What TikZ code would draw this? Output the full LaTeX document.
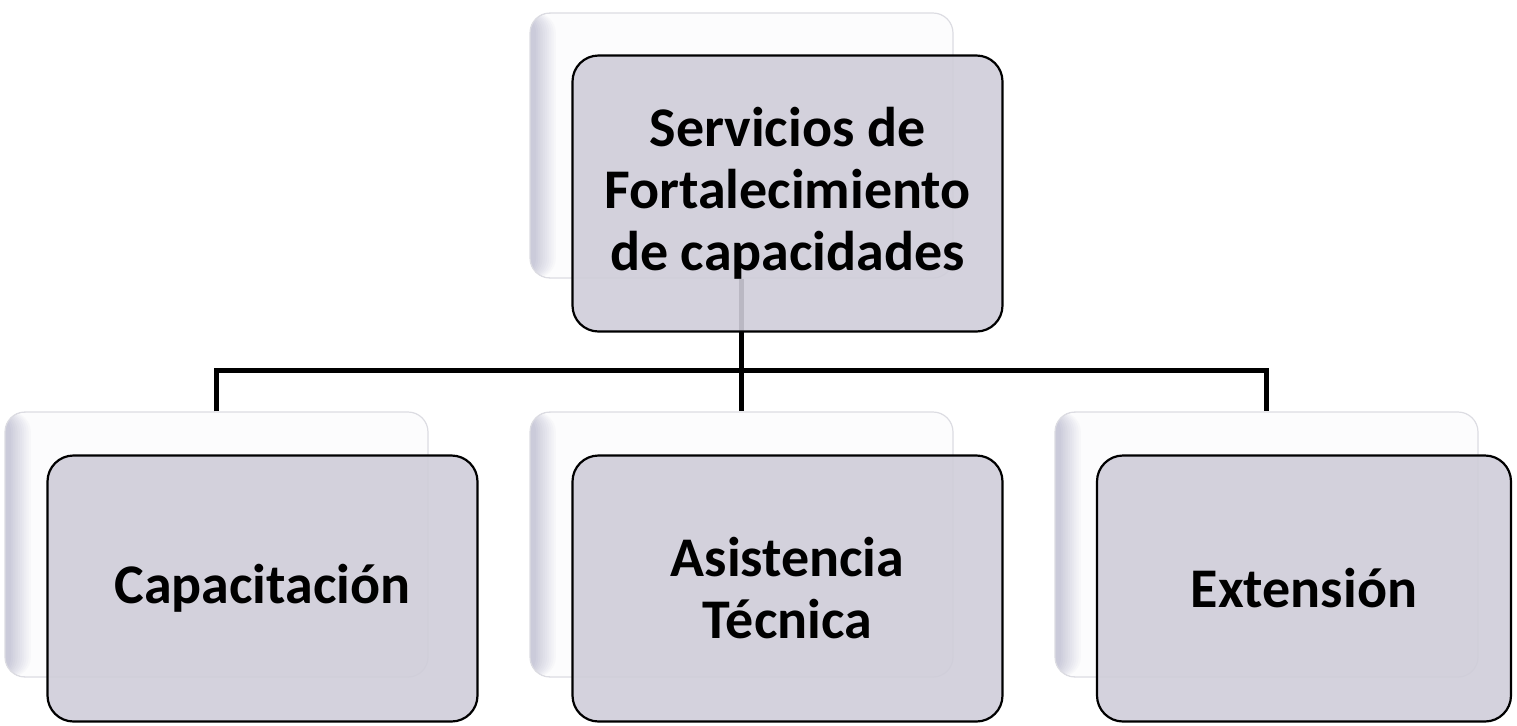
\documentclass[tikz,border=0pt]{standalone}
\usepackage{fontspec}
\setmainfont{Carlito}
\usepackage{tikz}
\usetikzlibrary{calc}
\usetikzlibrary{backgrounds}

\definecolor{boxfill}{HTML}{CFCDD9}
\definecolor{backfill}{HTML}{FCFCFD}
\definecolor{backline}{HTML}{DCDCE2}
\definecolor{shadowcol}{HTML}{CBCBDA}

\begin{document}
\begin{tikzpicture}[semithick, node distance=262.5pt]
    \tikzstyle{backbox}=[draw=backline,fill=backfill,rounded corners=10pt,minimum width=211.5pt,minimum height=132.5pt,
      path picture={\foreach \i [evaluate=\i as \c using {int(100-10*\i)}] in {9,...,0}
        \fill[shadowcol!\c!backfill] (path picture bounding box.south west) rectangle ([xshift=3pt+\i*1.1pt]path picture bounding box.north west);}]
    \tikzstyle{frontbox}=[draw=black,line width=1.1pt,fill=boxfill,fill opacity=0.9,text opacity=1,rounded corners=13pt,
      minimum width=215pt,minimum height=133pt,align=center,font=\fontsize{28}{31}\selectfont\bfseries]
    \useasboundingbox (0,0) rectangle (758.5pt,-362.5pt);
    % shadow boxes
    \node[backbox]  (topb)  at (370.75pt,-72.75pt)	{};
    \node[backbox]  (asisb) at (370.75pt,-272.25pt)	{};
    \node[backbox]  (capb)  [left of=asisb]		{};
    \node[backbox]  (extb)  [right of=asisb]	{};
    % connector
    \coordinate (bus) at (0,-185pt);
    \draw[line width=2.5pt]
      (topb.south) -- (topb.south |- bus)
      (capb.north) |- (bus -| extb.north) -- (extb.north)
      (topb.south |- bus) -- (asisb.north);
    % boxes
    \node[frontbox,minimum height=138pt] (top) at ($(topb)+(23pt,-24pt)$)	{Servicios de\\Fortalecimiento\\de capacidades};
    \node[frontbox] (cap)  at ($(capb)+(23pt,-22pt)$)	{Capacitación};
    \node[frontbox] (asis) at ($(asisb)+(23pt,-22pt)$)	{Asistencia\\Técnica};
    \node[frontbox,minimum width=207pt] (ext) at ($(extb)+(18.75pt,-22pt)$)	{Extensión};
\end{tikzpicture}
\end{document}
